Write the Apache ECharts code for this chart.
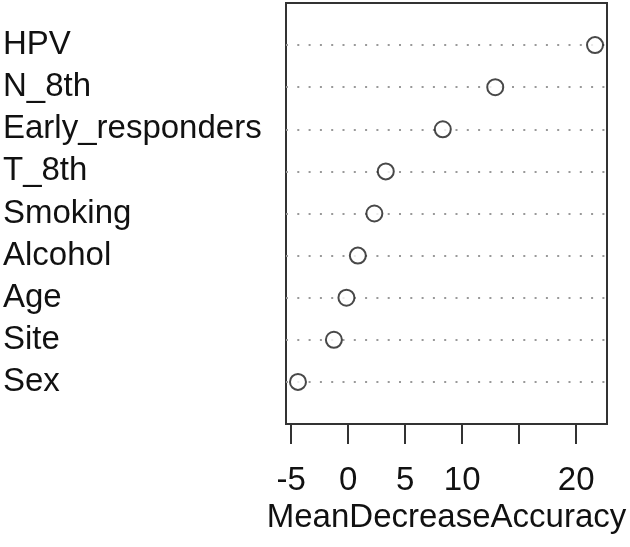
<!DOCTYPE html>
<html>
<head>
<meta charset="utf-8">
<script src="https://cdn.jsdelivr.net/npm/echarts@6/dist/echarts.min.js"></script>
<style>
html,body{margin:0;padding:0;background:#fff;}
#chart{width:630px;height:547px;}
</style>
</head>
<body>
<div id="chart"></div>
<script>
// Variables, top to bottom as shown in the plot
var categories = ["HPV", "N_8th", "Early_responders", "T_8th", "Smoking", "Alcohol", "Age", "Site", "Sex"];
var meanDecreaseAccuracy = [21.65, 12.9, 8.3, 3.3, 2.3, 0.85, -0.15, -1.25, -4.4];
var xTickValues = [-5, 0, 5, 10, 15, 20];
var xTickLabels = [-5, 0, 5, 10, 20];
var axisTitle = "MeanDecreaseAccuracy";

var n = categories.length;
// row position: top row = n, bottom row = 1
function rowPos(i) { return n - i; }
var points = meanDecreaseAccuracy.map(function (v, i) { return [v, rowPos(i)]; });
var rowValues = categories.map(function (c, i) { return rowPos(i); });
var nameByRow = {};
categories.forEach(function (c, i) { nameByRow[rowPos(i)] = c; });

var FONT = "'Liberation Sans', Arial, Helvetica, sans-serif";
var chart = echarts.init(document.getElementById('chart'), null, {renderer: 'canvas'});
chart.setOption({
  animation: false,
  backgroundColor: '#ffffff',
  grid: {
    left: 285, right: 23, top: 3, bottom: 123,
    show: true, borderColor: '#333333', borderWidth: 2, backgroundColor: 'transparent'
  },
  xAxis: {
    type: 'value',
    min: -5.45, max: 22.7,
    axisLine: {show: false},
    splitLine: {show: false},
    axisTick: {
      show: true, length: 20, inside: false,
      customValues: xTickValues,
      lineStyle: {color: '#333333', width: 2}
    },
    axisLabel: {
      customValues: xTickLabels,
      margin: 40,
      fontSize: 33, color: '#111111', fontFamily: FONT
    },
    name: axisTitle,
    nameLocation: 'middle',
    nameGap: 77,
    nameTextStyle: {fontSize: 33, color: '#111111', fontFamily: FONT}
  },
  yAxis: {
    type: 'value',
    min: 0, max: n + 1,
    axisLine: {show: false},
    axisTick: {show: false},
    splitLine: {show: false},
    axisLabel: {
      customValues: rowValues,
      formatter: function (v) { return nameByRow[v] || ''; },
      align: 'left',
      margin: 283,
      padding: [3, 0, 0, 0],
      fontSize: 33, color: '#111111', fontFamily: FONT
    }
  },
  series: [{
    type: 'scatter',
    data: points,
    symbol: 'circle',
    symbolSize: 16,
    itemStyle: {color: '#ffffff', borderColor: '#1a1a1a', borderWidth: 2},
    z: 5,
    markLine: {
      silent: true,
      symbol: ['none', 'none'],
      label: {show: false},
      lineStyle: {color: '#999999', width: 2, type: [2, 9.3]},
      data: rowValues.map(function (r) { return {yAxis: r}; }),
      z: 1
    }
  }]
});
</script>
</body>
</html>
